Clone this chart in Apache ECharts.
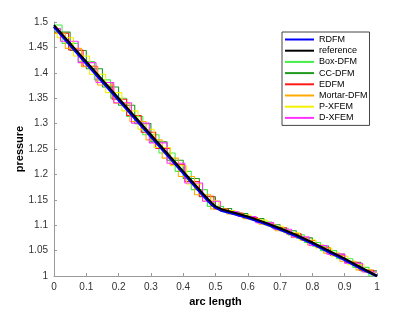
<!DOCTYPE html>
<html>
<head>
<meta charset="utf-8">
<script src="https://cdn.jsdelivr.net/npm/echarts@6/dist/echarts.min.js"></script>
<style>html,body{margin:0;padding:0;background:#fff;}#c{width:415px;height:312px;}</style>
</head>
<body>
<div id="c"></div>
<script>
// Tick labels
var xTicks = ['0','0.1','0.2','0.3','0.4','0.5','0.6','0.7','0.8','0.9','1'];
var yTicks = ['1','1.05','1.1','1.15','1.2','1.25','1.3','1.35','1.4','1.45','1.5'];

// Continuous curves
var refX  = [0,0.1,0.2,0.3,0.4,0.47,0.49,0.5,0.52,0.55,0.6,0.65,0.7,0.75,0.8,0.85,0.9,0.95,1.0];
var refY  = [1.494,1.422,1.350,1.278,1.206,1.156,1.143,1.137,1.131,1.126,1.117,1.106,1.094,1.081,1.066,1.050,1.034,1.017,1.000];
var rdfmY = [1.491,1.419,1.347,1.275,1.203,1.153,1.140,1.135,1.129,1.124,1.115,1.104,1.092,1.079,1.064,1.048,1.032,1.015,1.000];

// Piecewise-constant (cell) solutions: cell left edges and values
var boxX = [0,0.025,0.075,0.125,0.175,0.225,0.275,0.325,0.375,0.425,0.475,0.525,0.575,0.625,0.675,0.725,0.775,0.825,0.875,0.925,0.975,1.0];
var boxY = [1.494,1.458,1.422,1.386,1.350,1.314,1.278,1.242,1.206,1.170,1.137,1.126,1.117,1.106,1.094,1.081,1.066,1.050,1.034,1.017,1.000,1.000];
var ccX  = [0,0.05,0.1,0.15,0.2,0.25,0.3,0.35,0.4,0.45,0.5,0.55,0.6,0.65,0.7,0.75,0.8,0.85,0.9,0.95,1.0];
var ccY  = [1.480,1.444,1.408,1.372,1.336,1.300,1.264,1.228,1.192,1.156,1.133,1.123,1.113,1.101,1.089,1.075,1.059,1.043,1.027,1.010,1.010];
var edX  = [0,0.045,0.09,0.135,0.18,0.225,0.27,0.315,0.36,0.405,0.45,0.495,0.54,0.585,0.63,0.675,0.72,0.765,0.81,0.855,0.9,0.945,0.99,1.0];
var edY  = [1.478,1.445,1.413,1.381,1.348,1.316,1.283,1.251,1.219,1.186,1.157,1.132,1.124,1.115,1.105,1.095,1.083,1.070,1.056,1.041,1.026,1.011,1.002,1.002];
var moX  = [0,0.035,0.085,0.135,0.185,0.235,0.285,0.335,0.385,0.435,0.485,0.535,0.585,0.635,0.685,0.735,0.785,0.835,0.885,0.935,0.985,1.0];
var moY  = [1.478,1.448,1.412,1.376,1.340,1.304,1.268,1.232,1.196,1.160,1.132,1.122,1.113,1.102,1.089,1.076,1.061,1.045,1.029,1.012,1.001,1.001];
var pxX  = [0,0.01,0.06,0.11,0.16,0.21,0.26,0.31,0.36,0.41,0.46,0.51,0.56,0.61,0.66,0.71,0.76,0.81,0.86,0.91,0.96,1.0];
var pxY  = [1.490,1.469,1.433,1.397,1.361,1.325,1.289,1.253,1.217,1.181,1.148,1.129,1.120,1.110,1.098,1.085,1.071,1.055,1.039,1.022,1.007,1.007];
var dxX  = [0,0.02,0.075,0.13,0.185,0.24,0.295,0.35,0.405,0.46,0.515,0.57,0.625,0.68,0.735,0.79,0.845,0.9,0.955,1.0];
var dxY  = [1.487,1.462,1.420,1.381,1.341,1.301,1.262,1.222,1.183,1.147,1.127,1.117,1.105,1.092,1.077,1.060,1.043,1.025,1.008,1.008];

var legendNames = ['RDFM','reference','Box-DFM','CC-DFM','EDFM','Mortar-DFM','P-XFEM','D-XFEM'];

function zip(xs, ys){ return xs.map(function(x,i){ return [x, ys[i]]; }); }

var FONT = 'Liberation Sans, Arial, sans-serif';
function stepSeries(name, xs, ys, color){
  return {name:name, type:'line', step:'end', data:zip(xs,ys), symbol:'none',
    lineStyle:{color:color, width:1.1}, itemStyle:{color:color}, z:2};
}

var chart = echarts.init(document.getElementById('c'), null, {renderer:'canvas'});
chart.setOption({
  animation:false,
  backgroundColor:'#fff',
  grid:{left:54, right:38, top:22, bottom:34, containLabel:false},
  xAxis:{type:'value', min:0, max:1, interval:0.1,
    name:'arc length', nameLocation:'middle', nameGap:20, nameMoveOverlap:false,
    nameTextStyle:{fontFamily:FONT, fontSize:11, fontWeight:'bold', color:'#000'},
    axisLine:{show:true, lineStyle:{color:'#999', width:1}},
    axisTick:{show:true, inside:true, length:3, lineStyle:{color:'#999'}},
    axisLabel:{fontFamily:FONT, fontSize:10, color:'#333', margin:6,
      formatter:function(v){ var i=Math.round(v*10); return xTicks[i]; }},
    splitLine:{show:false}},
  yAxis:{type:'value', min:1, max:1.5, interval:0.05,
    name:'pressure', nameLocation:'middle', nameGap:29, nameRotate:90, nameMoveOverlap:false,
    nameTextStyle:{fontFamily:FONT, fontSize:11, fontWeight:'bold', color:'#000'},
    axisLine:{show:true, lineStyle:{color:'#999', width:1}},
    axisTick:{show:true, inside:true, length:3, lineStyle:{color:'#999'}},
    axisLabel:{fontFamily:FONT, fontSize:10, color:'#333', margin:6,
      formatter:function(v){ var i=Math.round((v-1)*20); return yTicks[i]; }},
    splitLine:{show:false}},
  legend:{data:legendNames, orient:'vertical', left:282, top:32,
    itemWidth:29, itemHeight:10, itemGap:2.2, padding:[3,2,3,2],
    itemStyle:{opacity:0},
    backgroundColor:'#fff', borderColor:'#444', borderWidth:1,
    textStyle:{fontFamily:FONT, fontSize:9, color:'#000'}},
  series:[
    stepSeries('Box-DFM', boxX, boxY, '#44ee44'),
    stepSeries('CC-DFM', ccX, ccY, '#1f9a1f'),
    stepSeries('EDFM', edX, edY, '#ff1a1a'),
    stepSeries('Mortar-DFM', moX, moY, '#ffaa00'),
    stepSeries('P-XFEM', pxX, pxY, '#f2f200'),
    stepSeries('D-XFEM', dxX, dxY, '#ff33ff'),
    {name:'RDFM', type:'line', data:zip(refX, rdfmY), symbol:'none',
      lineStyle:{color:'#0000ff', width:3}, itemStyle:{color:'#0000ff'}, z:3},
    {name:'reference', type:'line', data:zip(refX, refY), symbol:'none',
      lineStyle:{color:'#000', width:2}, itemStyle:{color:'#000'}, z:4}
  ]
});
</script>
</body>
</html>
